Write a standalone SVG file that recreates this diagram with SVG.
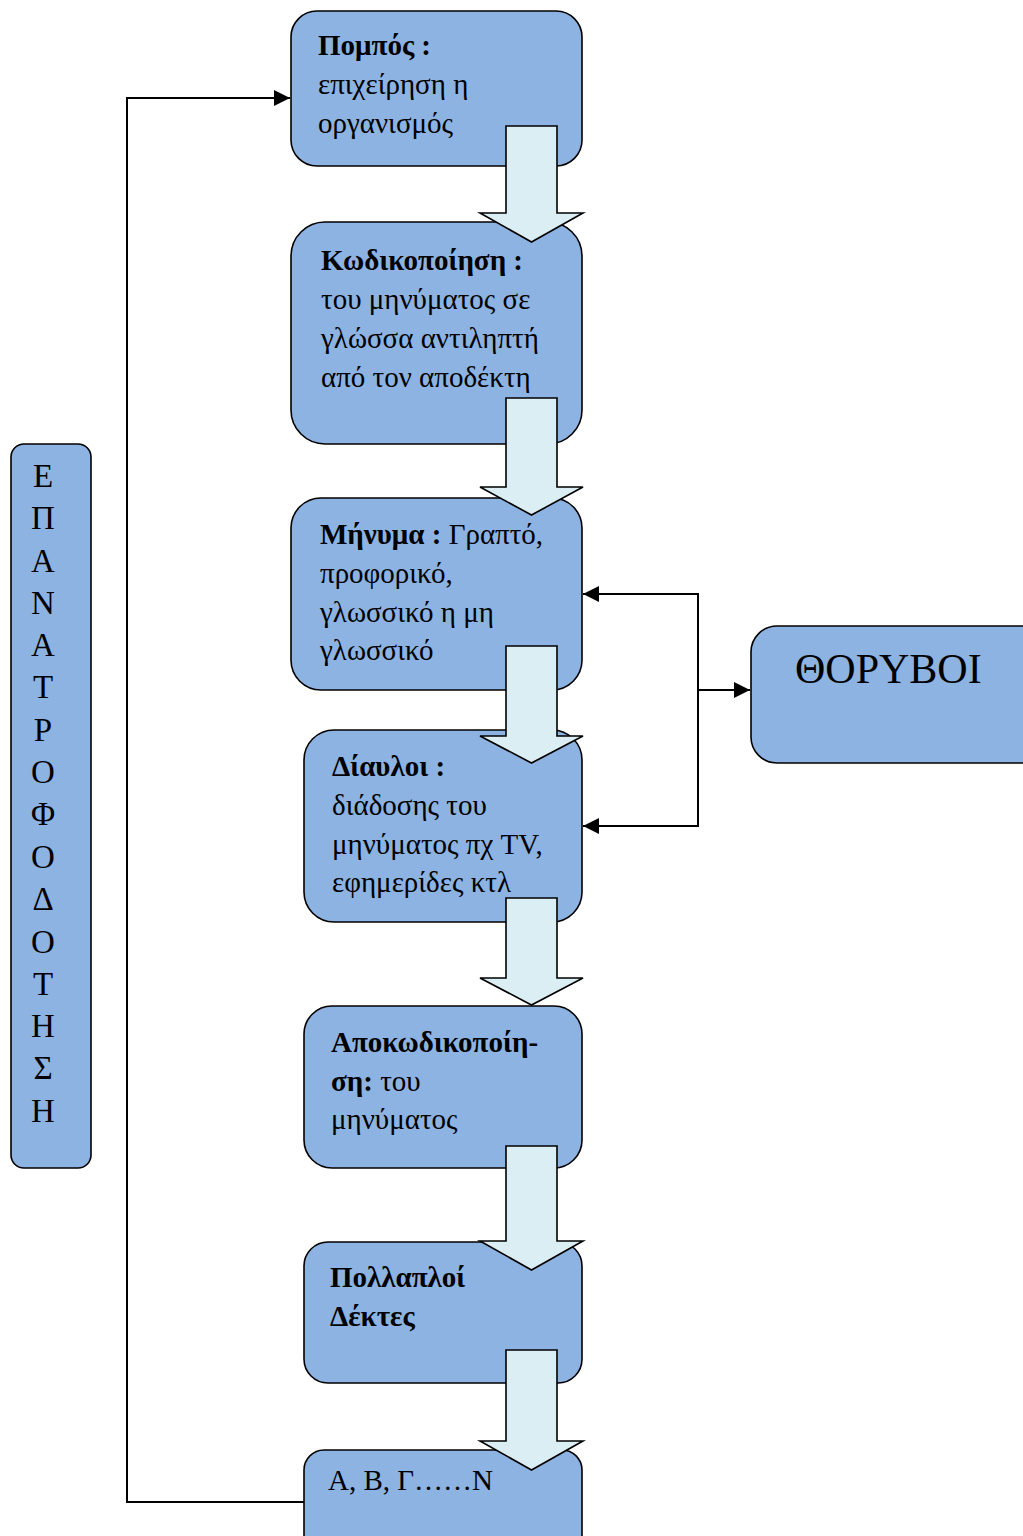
<svg xmlns="http://www.w3.org/2000/svg" width="1023" height="1536" viewBox="0 0 1023 1536">
<style>
.box{fill:#8DB3E2;stroke:#000;stroke-width:1.6}
.barrow{fill:#DBEEF3;stroke:#000;stroke-width:1.6;stroke-linejoin:miter}
.t{font-family:"Liberation Serif","Times New Roman","DejaVu Serif",serif;font-size:29px;fill:#000}
.b{font-weight:bold}
.line{fill:none;stroke:#000;stroke-width:2}
.v{font-family:"Liberation Serif","Times New Roman",serif;font-size:33px;fill:#000;text-anchor:middle}
</style>
<defs>
<marker id="ah" viewBox="0 0 10 10" refX="10" refY="5" markerWidth="16" markerHeight="16" markerUnits="userSpaceOnUse" orient="auto">
<path d="M0,0 L10,5 L0,10 z" fill="#000"/>
</marker>
</defs>
<rect width="1023" height="1536" fill="#fff"/>

<g id="feedback">
<rect class="box" x="11" y="444" width="80" height="724" rx="13"/>
<text class="v" x="43" y="487">Ε</text>
<text class="v" x="43" y="529">Π</text>
<text class="v" x="43" y="572">Α</text>
<text class="v" x="43" y="614">Ν</text>
<text class="v" x="43" y="656">Α</text>
<text class="v" x="43" y="698">Τ</text>
<text class="v" x="43" y="741">Ρ</text>
<text class="v" x="43" y="783">Ο</text>
<text class="v" x="43" y="825">Φ</text>
<text class="v" x="43" y="868">Ο</text>
<text class="v" x="43" y="910">Δ</text>
<text class="v" x="43" y="953">Ο</text>
<text class="v" x="43" y="995">Τ</text>
<text class="v" x="43" y="1037">Η</text>
<text class="v" x="43" y="1079">Σ</text>
<text class="v" x="43" y="1122">Η</text>
</g>

<g id="pompos">
<rect class="box" x="291" y="11" width="291" height="155" rx="26"/>
<text class="t" x="318" y="55"><tspan class="b">Πομπός :</tspan></text>
<text class="t" x="318" y="94">επιχείρηση η</text>
<text class="t" x="318" y="133">οργανισμός</text>
</g>

<g id="kodikopoiisi">
<rect class="box" x="291" y="222" width="291" height="222" rx="34"/>
<text class="t" x="321" y="270"><tspan class="b">Κωδικοποίηση :</tspan></text>
<text class="t" x="321" y="309">του μηνύματος σε</text>
<text class="t" x="321" y="348">γλώσσα αντιληπτή</text>
<text class="t" x="321" y="387">από τον αποδέκτη</text>
</g>

<g id="minyma">
<rect class="box" x="291" y="498" width="291" height="192" rx="30"/>
<text class="t" x="320" y="544"><tspan class="b">Μήνυμα :</tspan> Γραπτό,</text>
<text class="t" x="320" y="583">προφορικό,</text>
<text class="t" x="320" y="622">γλωσσικό η μη</text>
<text class="t" x="320" y="660">γλωσσικό</text>
</g>

<g id="diavloi">
<rect class="box" x="304" y="730" width="278" height="192" rx="30"/>
<text class="t" x="332" y="776"><tspan class="b">Δίαυλοι :</tspan></text>
<text class="t" x="332" y="815">διάδοσης του</text>
<text class="t" x="332" y="854">μηνύματος πχ TV,</text>
<text class="t" x="332" y="892">εφημερίδες κτλ</text>
</g>

<g id="apokodikopoiisi">
<rect class="box" x="304" y="1006" width="278" height="162" rx="28"/>
<text class="t" x="331" y="1052"><tspan class="b">Αποκωδικοποίη-</tspan></text>
<text class="t" x="331" y="1091"><tspan class="b">ση:</tspan> του</text>
<text class="t" x="331" y="1129">μηνύματος</text>
</g>

<g id="dektes">
<rect class="box" x="304" y="1242" width="278" height="141" rx="24"/>
<text class="t" x="330" y="1287"><tspan class="b">Πολλαπλοί</tspan></text>
<text class="t" x="330" y="1326"><tspan class="b">Δέκτες</tspan></text>
</g>

<g id="abgn">
<rect class="box" x="304" y="1450" width="278" height="110" rx="20"/>
<text class="t" x="328" y="1490">Α, Β, Γ……Ν</text>
</g>

<g id="thoryvoi">
<rect class="box" x="751" y="626" width="300" height="137" rx="26"/>
<text class="t" x="795" y="683" style="font-size:42px">ΘΟΡΥΒΟΙ</text>
</g>

<g id="connectors">
<polygon class="barrow" points="506,126 557,126 557,213 583,213 531.5,242 480,213 506,213"/>
<polygon class="barrow" points="506,398 557,398 557,487 583,487 531.5,515 480,487 506,487"/>
<polygon class="barrow" points="506,646 557,646 557,736 583,736 531.5,763 480,736 506,736"/>
<polygon class="barrow" points="506,898 557,898 557,978 583,978 531.5,1005 480,978 506,978"/>
<polygon class="barrow" points="506,1146 557,1146 557,1241 583,1241 531.5,1270 480,1241 506,1241"/>
<polygon class="barrow" points="506,1350 557,1350 557,1441 583,1441 531.5,1470 480,1441 506,1441"/>
<polyline class="line" points="304,1502 127,1502 127,98 290,98" marker-end="url(#ah)"/>
<polyline class="line" points="698,594 583,594" marker-end="url(#ah)"/>
<polyline class="line" points="698,826 583,826" marker-end="url(#ah)"/>
<line class="line" x1="698" y1="593" x2="698" y2="827"/>
<polyline class="line" points="698,690 750,690" marker-end="url(#ah)"/>
</g>
</svg>
